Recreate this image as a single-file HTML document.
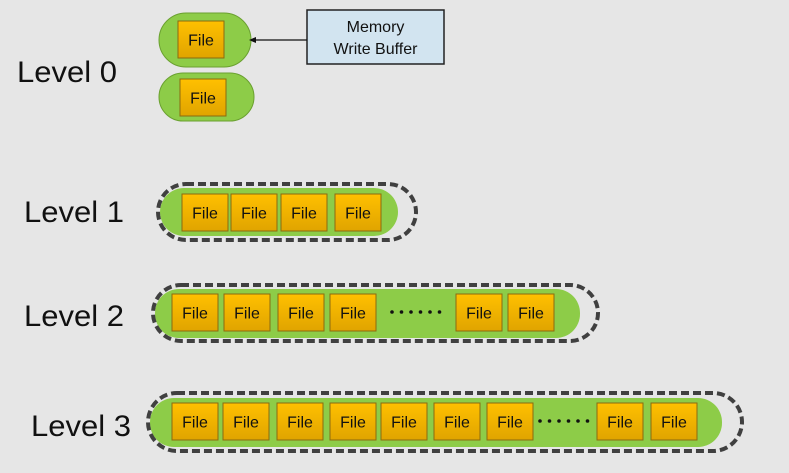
<!DOCTYPE html>
<html><head><style>html,body{margin:0;padding:0;background:#e6e6e6}</style></head>
<body>
<svg width="789" height="468" viewBox="0 0 789 468" xmlns="http://www.w3.org/2000/svg" font-family="Liberation Sans, sans-serif">
<defs>
<linearGradient id="fg" x1="0" y1="0" x2="0" y2="1"><stop offset="0" stop-color="#ffc000"/><stop offset="1" stop-color="#e0a400"/></linearGradient>
<g id="file"><rect x="0" y="0" width="46" height="37" fill="url(#fg)" stroke="#8a6a10" stroke-width="1"/><text x="23" y="24.5" font-size="16" text-anchor="middle" fill="#111">File</text></g>
</defs>
<rect width="789" height="468" fill="#e6e6e6"/>
<g font-size="30" fill="#111">
<text x="17" y="82" textLength="100" lengthAdjust="spacingAndGlyphs">Level 0</text>
<text x="24" y="222" textLength="100" lengthAdjust="spacingAndGlyphs">Level 1</text>
<text x="24" y="326" textLength="100" lengthAdjust="spacingAndGlyphs">Level 2</text>
<text x="31" y="436" textLength="100" lengthAdjust="spacingAndGlyphs">Level 3</text>
</g>
<!-- level 0 -->
<rect x="159" y="13" width="92" height="54" rx="27" fill="#8dcc48" stroke="#6aa030"/>
<use href="#file" x="178" y="21"/>
<rect x="159" y="73" width="95" height="48" rx="24" fill="#8dcc48" stroke="#6aa030"/>
<use href="#file" x="180" y="79"/>
<rect x="307" y="10" width="137" height="54" fill="#d2e4f0" stroke="#222" stroke-width="1.5"/>
<text x="375.5" y="32" font-size="16" text-anchor="middle" fill="#111">Memory</text>
<text x="375.5" y="54" font-size="16" text-anchor="middle" fill="#111">Write Buffer</text>
<line x1="307" y1="40" x2="254" y2="40" stroke="#111" stroke-width="1.2"/>
<polygon points="249,40 256,37 256,43" fill="#111"/>
<!-- level 1 -->
<rect x="160" y="188" width="238" height="48" rx="24" fill="#8dcc48"/>
<rect x="158" y="184" width="258" height="56" rx="28" fill="none" stroke="#404040" stroke-width="4" stroke-dasharray="8,4"/>
<use href="#file" x="182" y="194"/><use href="#file" x="231" y="194"/><use href="#file" x="281" y="194"/><use href="#file" x="335" y="194"/>
<!-- level 2 -->
<rect x="155" y="289" width="425" height="49" rx="24" fill="#8dcc48"/>
<rect x="153" y="285" width="445" height="56" rx="28" fill="none" stroke="#404040" stroke-width="4" stroke-dasharray="8,4"/>
<use href="#file" x="172" y="294"/><use href="#file" x="224" y="294"/><use href="#file" x="278" y="294"/><use href="#file" x="330" y="294"/>
<use href="#file" x="456" y="294"/><use href="#file" x="508" y="294"/>
<g fill="#111"><circle cx="392" cy="312" r="1.8"/><circle cx="401.5" cy="312" r="1.8"/><circle cx="411" cy="312" r="1.8"/><circle cx="420.5" cy="312" r="1.8"/><circle cx="430" cy="312" r="1.8"/><circle cx="439.5" cy="312" r="1.8"/></g>
<!-- level 3 -->
<rect x="150" y="398" width="572" height="49" rx="24" fill="#8dcc48"/>
<rect x="148" y="393" width="594" height="58" rx="29" fill="none" stroke="#404040" stroke-width="4" stroke-dasharray="8,4"/>
<use href="#file" x="172" y="403"/><use href="#file" x="223" y="403"/><use href="#file" x="277" y="403"/><use href="#file" x="330" y="403"/>
<use href="#file" x="381" y="403"/><use href="#file" x="434" y="403"/><use href="#file" x="487" y="403"/>
<use href="#file" x="597" y="403"/><use href="#file" x="651" y="403"/>
<g fill="#111"><circle cx="540" cy="421" r="1.8"/><circle cx="549.5" cy="421" r="1.8"/><circle cx="559" cy="421" r="1.8"/><circle cx="568.5" cy="421" r="1.8"/><circle cx="578" cy="421" r="1.8"/><circle cx="587.5" cy="421" r="1.8"/></g>
</svg>
</body></html>
